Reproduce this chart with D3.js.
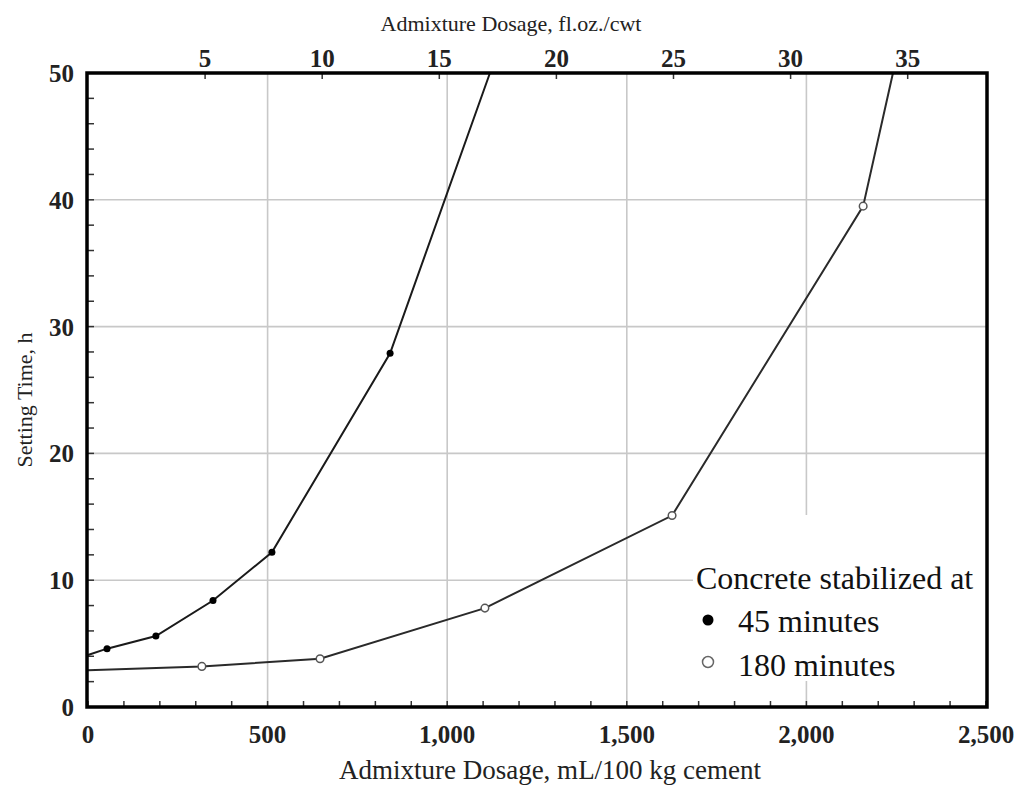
<!DOCTYPE html>
<html><head><meta charset="utf-8">
<script src="https://cdn.jsdelivr.net/npm/d3@7"></script>
<style>body{margin:0;background:#fff}svg{display:block}</style>
</head><body><svg id="c" width="1018" height="787"></svg>
<script>
// ---- data ----
const dosage45 = [0, 53, 189, 348, 512, 841, 1119];          // mL/100 kg cement
const time45   = [4.1, 4.6, 5.6, 8.4, 12.2, 27.9, 50];        // h
const mark45   = [false, true, true, true, true, true, false];
const dosage180 = [0, 317, 646, 1105, 1626, 2158, 2241];
const time180   = [2.9, 3.2, 3.8, 7.8, 15.1, 39.5, 50];
const mark180   = [false, true, true, true, true, true, false];
const xTicks = [0, 500, 1000, 1500, 2000, 2500];
const xTickLabels = ["0", "500", "1,000", "1,500", "2,000", "2,500"];
const yTicks = [0, 10, 20, 30, 40, 50];
const topTicks = [5, 10, 15, 20, 25, 30, 35];                  // fl.oz./cwt
const mlPerFlOz = 65.2;
const legendTitle = "Concrete stabilized at";
const legendLabels = ["45 minutes", "180 minutes"];

const svg = d3.select("#c");
const L = 88, R = 986, T = 73, B = 707;
const x = d3.scaleLinear().domain([0, 2500]).range([L, R]);
const xTop = d3.scaleLinear().domain([0, 2500 / mlPerFlOz]).range([L, R]);
const y = d3.scaleLinear().domain([0, 50]).range([B, T]);
const serif = "'Liberation Serif','Times New Roman',serif";

// grid
const grid = svg.append("g").attr("stroke", "#c8c8c8").attr("stroke-width", 1.6);
xTicks.filter(d => d > 0 && d < 2500).forEach(d =>
  grid.append("line").attr("x1", x(d)).attr("x2", x(d)).attr("y1", T).attr("y2", B));
yTicks.filter(d => d > 0 && d < 50).forEach(d =>
  grid.append("line").attr("x1", L).attr("x2", R).attr("y1", y(d)).attr("y2", y(d)));

// legend backdrop
svg.append("rect").attr("x", 693).attr("y", 515).attr("width", R - 693).attr("height", 166).attr("fill", "#fff");

// minor ticks
const tk = svg.append("g").attr("stroke", "#333").attr("stroke-width", 1.5);
d3.range(0, 2501, 100).forEach(d =>
  tk.append("line").attr("x1", x(d)).attr("x2", x(d)).attr("y1", B).attr("y2", B - 6));
d3.range(0, 51, 2).forEach(d =>
  tk.append("line").attr("x1", L).attr("x2", L + 6).attr("y1", y(d)).attr("y2", y(d)));
topTicks.forEach(d =>
  tk.append("line").attr("x1", xTop(d)).attr("x2", xTop(d)).attr("y1", T).attr("y2", T + 6));

// series lines
const line = d3.line().x(d => x(d[0])).y(d => y(d[1]));
const s45 = dosage45.map((d, i) => [d, time45[i], mark45[i]]);
const s180 = dosage180.map((d, i) => [d, time180[i], mark180[i]]);
svg.append("path").datum(s45).attr("d", line).attr("fill", "none").attr("stroke", "#1a1a1a").attr("stroke-width", 2);
svg.append("path").datum(s180).attr("d", line).attr("fill", "none").attr("stroke", "#2a2a2a").attr("stroke-width", 2);
svg.selectAll(".m45").data(s45.filter(d => d[2])).join("circle")
  .attr("cx", d => x(d[0])).attr("cy", d => y(d[1])).attr("r", 3.5).attr("fill", "#000");
svg.selectAll(".m180").data(s180.filter(d => d[2])).join("circle")
  .attr("cx", d => x(d[0])).attr("cy", d => y(d[1])).attr("r", 3.8).attr("fill", "#fff")
  .attr("stroke", "#555").attr("stroke-width", 1.5);

// frame
svg.append("rect").attr("x", L - 1).attr("y", T).attr("width", R - L + 2).attr("height", B - T)
  .attr("fill", "none").attr("stroke", "#000").attr("stroke-width", 3.5);

// tick labels
const tickFont = 25;
svg.selectAll(".xl").data(xTicks).join("text")
  .attr("x", d => x(d)).attr("y", 743).attr("text-anchor", "middle")
  .attr("font-family", serif).attr("font-weight", "bold").attr("font-size", tickFont).attr("fill", "#222")
  .text((d, i) => xTickLabels[i]);
svg.selectAll(".yl").data(yTicks).join("text")
  .attr("x", 74).attr("y", d => y(d) + 9).attr("text-anchor", "end")
  .attr("font-family", serif).attr("font-weight", "bold").attr("font-size", tickFont).attr("fill", "#222")
  .text(d => d);
svg.selectAll(".tl").data(topTicks).join("text")
  .attr("x", d => xTop(d)).attr("y", 67).attr("text-anchor", "middle")
  .attr("font-family", serif).attr("font-weight", "bold").attr("font-size", tickFont).attr("fill", "#222")
  .text(d => d);

// axis titles
svg.append("text").attr("x", 511).attr("y", 31).attr("text-anchor", "middle")
  .attr("font-family", serif).attr("font-size", 22).attr("fill", "#222").text("Admixture Dosage, fl.oz./cwt");
svg.append("text").attr("x", 550).attr("y", 779).attr("text-anchor", "middle")
  .attr("font-family", serif).attr("font-size", 27).attr("fill", "#222").text("Admixture Dosage, mL/100 kg cement");
svg.append("text").attr("transform", "translate(32,400) rotate(-90)").attr("text-anchor", "middle")
  .attr("font-family", serif).attr("font-size", 22).attr("fill", "#222").text("Setting Time, h");

// legend
const legFont = 32;
svg.append("text").attr("x", 696).attr("y", 589).attr("font-family", serif).attr("font-size", legFont)
  .attr("fill", "#111").text(legendTitle);
svg.append("circle").attr("cx", 708).attr("cy", 620).attr("r", 5.5).attr("fill", "#000");
svg.append("circle").attr("cx", 708).attr("cy", 662).attr("r", 5.5).attr("fill", "#fff").attr("stroke", "#666").attr("stroke-width", 1.5);
svg.append("text").attr("x", 738).attr("y", 632).attr("font-family", serif).attr("font-size", legFont)
  .attr("fill", "#111").text(legendLabels[0]);
svg.append("text").attr("x", 738).attr("y", 676).attr("font-family", serif).attr("font-size", legFont)
  .attr("fill", "#111").text(legendLabels[1]);
</script></body></html>
